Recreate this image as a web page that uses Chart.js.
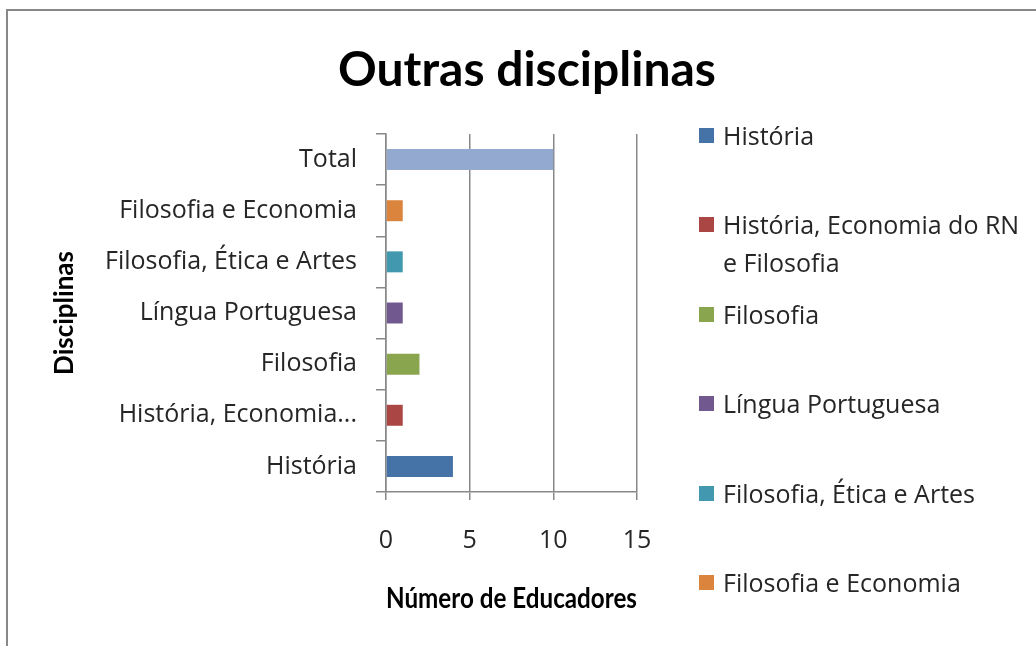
<!DOCTYPE html>
<html>
<head>
<meta charset="utf-8">
<script src="https://cdn.jsdelivr.net/npm/chart.js@4.4.0/dist/chart.umd.min.js"></script>
<style>
    body { margin: 0; background: #fff; overflow: hidden; }
    #frame { position: absolute; left: 6px; top: 9px; width: 1200px; height: 800px; border-top: 2px solid #888; border-left: 2px solid #888; }
    #chart { position: absolute; left: 0; top: 0; }
    #legend { position: absolute; left: 0; top: 0; font-family: "Open Sans", sans-serif; font-size: 25px; color: #262626; }
    .item { position: absolute; left: 699px; width: 330px; }
    .box { position: absolute; left: 0; top: 12px; width: 15px; height: 15px; }
    .txt { position: absolute; left: 24px; width: 305px; line-height: 38px; white-space: normal; }
</style>
</head>
<body>
<div id="frame"></div>
<canvas id="chart" width="1036" height="646"></canvas>
<div id="legend"></div>
<script>
var categorias = ['História', 'História, Economia do RN e Filosofia', 'Filosofia', 'Língua Portuguesa', 'Filosofia, Ética e Artes', 'Filosofia e Economia', 'Total'];
var educadores = [4, 1, 2, 1, 1, 1, 10];
var cores = ['#4572A7', '#AA4643', '#89A54E', '#71588F', '#4198AF', '#DB843D', '#93A9CF'];
var ticksX = [0, 5, 10, 15];

var fonteTitulo = "Lato, sans-serif";
var fonteTexto = "'Open Sans', sans-serif";

// legenda sem o Total
var legend = document.getElementById('legend');
for (var i = 0; i < categorias.length - 1; i++) {
    var item = document.createElement('div');
    item.className = 'item';
    item.style.top = (135 + i * 89.4 - 19) + 'px';
    var box = document.createElement('div');
    box.className = 'box';
    box.style.background = cores[i];
    var txt = document.createElement('div');
    txt.className = 'txt';
    txt.textContent = categorias[i];
    item.appendChild(box);
    item.appendChild(txt);
    legend.appendChild(item);
}

var ctx = document.getElementById('chart').getContext('2d');
var myChart = new Chart(ctx, {
    type: 'bar',
    data: {
        labels: categorias,
        datasets: [{
            label: 'Número de Educadores',
            data: educadores,
            backgroundColor: cores,
            borderWidth: 0,
            categoryPercentage: 1,
            barPercentage: 0.41
        }]
    },
    options: {
        indexAxis: 'y',
        responsive: false,
        animation: false,
        layout: { padding: { left: 18, top: 42, right: 0, bottom: 0 } },
        plugins: {
            legend: { display: false },
            tooltip: { enabled: false },
            title: {
                display: true,
                text: 'Outras disciplinas',
                color: '#000',
                font: { family: fonteTitulo, size: 48, weight: 'bold' },
                padding: { top: 0, bottom: 34.4 }
            }
        },
        scales: {
            x: {
                min: ticksX[0],
                max: ticksX[ticksX.length - 1],
                afterBuildTicks: function (scale) {
                    scale.ticks = ticksX.map(function (v) { return { value: v }; });
                },
                afterFit: function (scale) { scale.height = 154; },
                grid: { color: '#888', lineWidth: 1.5, tickLength: 8 },
                border: { color: '#888', width: 1.5 },
                ticks: {
                    color: '#262626',
                    padding: 26,
                    maxRotation: 0,
                    font: { family: fonteTexto, size: 25 }
                },
                title: {
                    display: true,
                    text: 'Número de Educadores',
                    color: '#000',
                    font: { family: fonteTitulo, size: 28, weight: 'bold' },
                    padding: { top: 0, bottom: 30 }
                }
            },
            y: {
                reverse: true,
                afterFit: function (scale) { scale.width = 368; },
                grid: { offset: true, drawOnChartArea: false, color: '#888', lineWidth: 1.5, tickLength: 10 },
                border: { color: '#888', width: 1.5 },
                ticks: {
                    color: '#262626',
                    padding: 19,
                    autoSkip: false,
                    font: { family: fonteTexto, size: 25 },
                    callback: function (value) {
                        var label = this.getLabelForValue(value);
                        if (label.length > 24) {
                            return label.substring(0, 18) + '...';
                        }
                        return label;
                    }
                },
                title: {
                    display: true,
                    text: 'Disciplinas',
                    color: '#000',
                    font: { family: fonteTitulo, size: 26, weight: 'bold' },
                    padding: { top: 31, bottom: 0 }
                }
            },
            yDireita: {
                axis: 'y',
                position: 'right',
                display: true,
                afterFit: function (scale) { scale.width = 399; },
                grid: { display: false },
                border: { display: false },
                ticks: { display: false }
            }
        }
    }
});
</script>
</body>
</html>
